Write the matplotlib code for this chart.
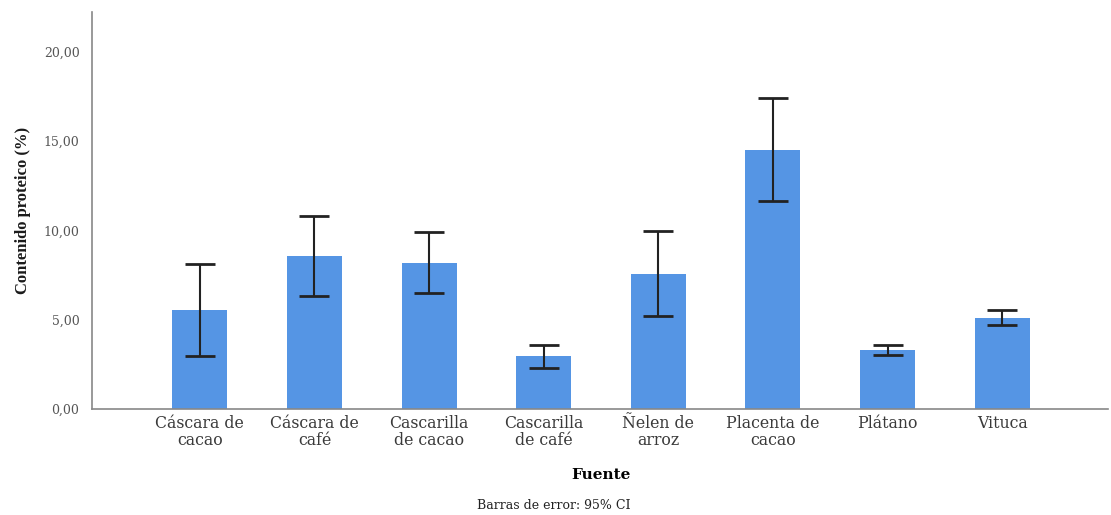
import matplotlib.pyplot as plt
import numpy as np

fuentes = ['Cáscara de\ncacao', 'Cáscara de\ncafé', 'Cascarilla\nde cacao', 'Cascarilla\nde café',
           'Ñelen de\narroz', 'Placenta de\ncacao', 'Plátano', 'Vituca']
media = [5.55, 8.59, 8.18, 2.95, 7.58, 14.51, 3.29, 5.10]
ic_inf = [2.99, 6.35, 6.50, 2.32, 5.23, 11.63, 3.03, 4.71]
ic_sup = [8.14, 10.83, 9.90, 3.59, 9.95, 17.41, 3.59, 5.55]
yticks = [0, 5, 10, 15, 20]

plt.rcParams['font.family'] = ['DejaVu Serif']

fig = plt.figure(figsize=(11.11, 5.15), dpi=100)
ax = fig.add_axes([0.0828, 0.2058, 0.9142, 0.7709])

x = np.arange(len(fuentes))
media = np.array(media)
err = [media - np.array(ic_inf), np.array(ic_sup) - media]

ax.bar(x, media, width=0.48, color='#5595e4', zorder=2)
ax.errorbar(x, media, yerr=err, fmt='none', ecolor='#222222', elinewidth=1.5,
            capsize=10.5, capthick=2, zorder=3)

ax.set_xlim(-0.94, 7.92)
ax.set_ylim(0, 22.24)
ax.set_yticks(yticks)
ax.set_yticklabels([f'{v:.2f}'.replace('.', ',') for v in yticks], color='#555555', fontsize=9)
ax.set_xticks(x)
ax.set_xticklabels(fuentes, fontsize=11.3, color='#3a3a3a', linespacing=1.0)
ax.tick_params(axis='both', length=0)
ax.tick_params(axis='y', pad=9)
ax.tick_params(axis='x', pad=4)

for s in ['top', 'right']:
    ax.spines[s].set_visible(False)
for s in ['left', 'bottom']:
    ax.spines[s].set_color('#888888')
    ax.spines[s].set_linewidth(1.2)

ax.set_ylabel('Contenido proteico (%)', fontsize=12, fontweight='bold', labelpad=9,
              family='Liberation Serif', color='#1a1a1a')
fig.text(0.541, 0.078, 'Fuente', ha='center', va='center', fontsize=11, fontweight='bold')
fig.text(0.4987, 0.019, 'Barras de error: 95% CI', ha='center', va='center', fontsize=9,
         color='#222222')

fig.savefig('out.png', dpi=100)
